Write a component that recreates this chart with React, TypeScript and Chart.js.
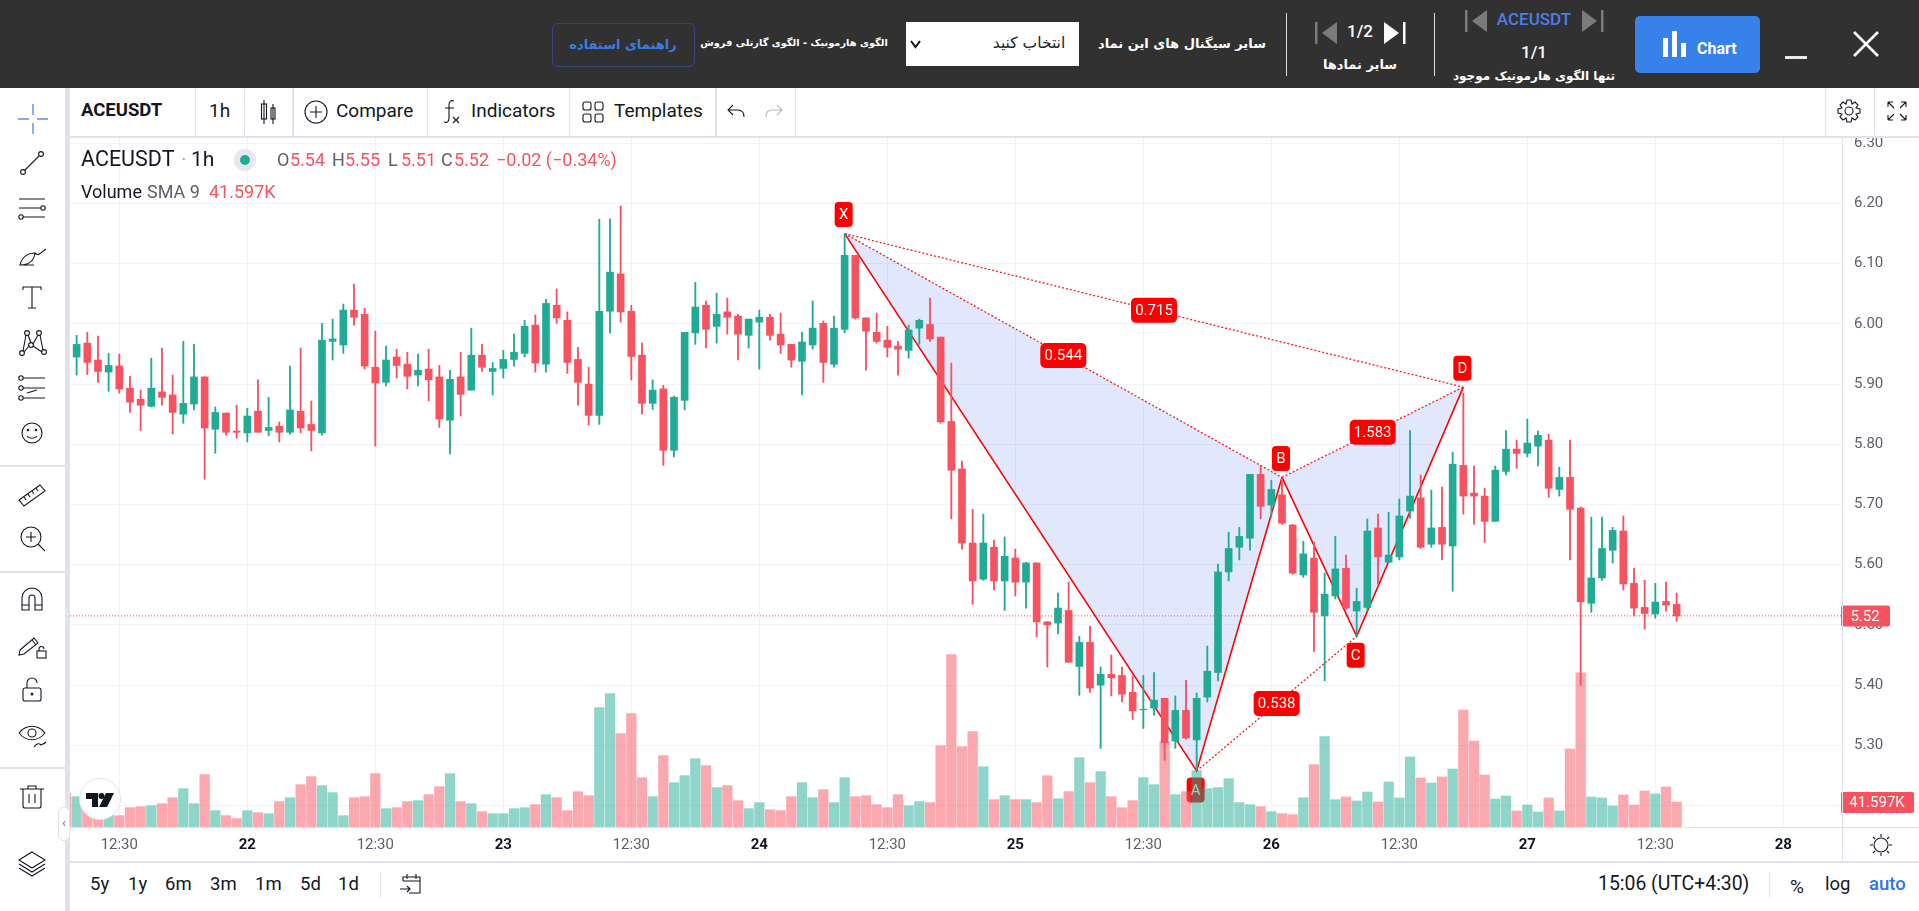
import React, { useEffect, useRef } from 'react';
import Chart from 'chart.js/auto';

// hourly candles, first entry sits just left of the visible range
const highs = [
  5.99,
  5.981, 5.986, 5.98, 5.951, 5.95, 5.913, 5.89, 5.943, 5.96, 5.915,
  5.971, 5.966, 5.912, 5.862, 5.852, 5.865, 5.86, 5.907, 5.878, 5.837,
  5.93, 5.96, 5.872, 6.001, 6.008, 6.033, 6.066, 6.026, 5.988, 5.963,
  5.958, 5.953, 5.95, 5.958, 5.931, 5.923, 5.953, 5.993, 5.966, 5.936,
  5.956, 5.983, 6.006, 6.015, 6.041, 6.058, 6.02, 5.961, 5.928, 6.174,
  6.174, 6.196, 6.031, 5.968, 5.907, 5.898, 5.88, 5.986, 6.069, 6.038,
  6.051, 6.043, 6.016, 6.008, 6.023, 6.016, 6.018, 5.966, 5.986, 6.038,
  6.005, 6.013, 6.15, 6.114, 6.01, 6.018, 5.996, 5.971, 5.998, 6.008,
  6.043, 5.978, 5.935, 5.772, 5.692, 5.684, 5.641, 5.646, 5.626, 5.604,
  5.603, 5.506, 5.553, 5.571, 5.481, 5.498, 5.43, 5.45, 5.43, 5.415,
  5.416, 5.421, 5.378, 5.382, 5.408, 5.387, 5.465, 5.601, 5.654, 5.662,
  5.75, 5.764, 5.74, 5.743, 5.667, 5.639, 5.637, 5.586, 5.647, 5.616,
  5.561, 5.676, 5.684, 5.687, 5.709, 5.823, 5.749, 5.724, 5.729, 5.787,
  5.885, 5.764, 5.727, 5.764, 5.823, 5.807, 5.842, 5.822, 5.817, 5.762,
  5.807, 5.696, 5.679, 5.679, 5.662, 5.681, 5.594, 5.574, 5.569, 5.571,
  5.553,
];
const opens = [
  5.96,
  5.945, 5.968, 5.94, 5.92, 5.93, 5.893, 5.875, 5.863, 5.887, 5.882,
  5.85, 5.867, 5.912, 5.825, 5.852, 5.822, 5.819, 5.855, 5.823, 5.83,
  5.82, 5.855, 5.833, 5.819, 5.971, 5.965, 6.023, 6.016, 5.928, 5.903,
  5.945, 5.933, 5.915, 5.925, 5.912, 5.84, 5.912, 5.89, 5.948, 5.921,
  5.926, 5.941, 5.951, 5.998, 5.933, 6.031, 6.006, 5.941, 5.9, 5.848,
  6.021, 6.083, 6.021, 5.948, 5.868, 5.892, 5.79, 5.873, 5.985, 6.031,
  5.996, 6.02, 6.013, 5.981, 6.003, 6.011, 5.983, 5.966, 5.938, 5.965,
  6.001, 5.933, 5.991, 6.114, 6.01, 5.986, 5.973, 5.963, 5.956, 5.993,
  5.999, 5.978, 5.838, 5.759, 5.636, 5.576, 5.629, 5.573, 5.611, 5.571,
  5.603, 5.505, 5.503, 5.524, 5.431, 5.471, 5.4, 5.418, 5.416, 5.388,
  5.359, 5.362, 5.378, 5.307, 5.358, 5.309, 5.38, 5.421, 5.588, 5.629,
  5.644, 5.75, 5.699, 5.716, 5.666, 5.583, 5.611, 5.515, 5.548, 5.594,
  5.523, 5.529, 5.661, 5.604, 5.613, 5.689, 5.711, 5.634, 5.662, 5.631,
  5.765, 5.719, 5.714, 5.672, 5.755, 5.792, 5.785, 5.797, 5.807, 5.725,
  5.745, 5.694, 5.536, 5.578, 5.624, 5.656, 5.569, 5.529, 5.518, 5.539,
  5.534,
];
const closes = [
  5.95,
  5.966, 5.936, 5.921, 5.931, 5.892, 5.87, 5.865, 5.893, 5.878, 5.853,
  5.868, 5.912, 5.827, 5.853, 5.82, 5.82, 5.847, 5.82, 5.828, 5.82,
  5.857, 5.827, 5.823, 5.973, 5.975, 6.023, 6.011, 5.93, 5.902, 5.94,
  5.931, 5.913, 5.923, 5.907, 5.842, 5.908, 5.883, 5.948, 5.928, 5.926,
  5.941, 5.953, 5.996, 5.935, 6.034, 6.01, 5.936, 5.903, 5.848, 6.021,
  6.086, 6.02, 5.946, 5.868, 5.89, 5.79, 5.878, 5.986, 6.028, 5.991,
  6.016, 6.011, 5.983, 6.008, 6.011, 5.981, 5.965, 5.94, 5.97, 5.993,
  5.936, 5.993, 6.114, 6.01, 5.988, 5.971, 5.961, 5.958, 5.99, 6.006,
  5.975, 5.837, 5.757, 5.636, 5.573, 5.636, 5.573, 5.614, 5.571, 5.603,
  5.505, 5.5, 5.528, 5.438, 5.471, 5.395, 5.418, 5.412, 5.385, 5.357,
  5.36, 5.375, 5.304, 5.358, 5.312, 5.378, 5.423, 5.588, 5.627, 5.647,
  5.75, 5.697, 5.725, 5.669, 5.586, 5.618, 5.521, 5.551, 5.593, 5.528,
  5.539, 5.656, 5.613, 5.616, 5.681, 5.714, 5.629, 5.661, 5.634, 5.767,
  5.714, 5.714, 5.672, 5.757, 5.792, 5.785, 5.802, 5.815, 5.727, 5.745,
  5.692, 5.538, 5.578, 5.627, 5.657, 5.568, 5.528, 5.519, 5.538, 5.533,
  5.515,
];
const lows = [
  5.94,
  5.915, 5.916, 5.903, 5.888, 5.885, 5.853, 5.823, 5.862, 5.865, 5.817,
  5.835, 5.857, 5.742, 5.785, 5.815, 5.81, 5.804, 5.82, 5.814, 5.804,
  5.817, 5.819, 5.789, 5.815, 5.94, 5.951, 5.998, 5.925, 5.797, 5.897,
  5.91, 5.892, 5.897, 5.872, 5.828, 5.784, 5.847, 5.89, 5.921, 5.882,
  5.91, 5.93, 5.945, 5.92, 5.92, 6.001, 5.918, 5.865, 5.832, 5.833,
  5.985, 6.003, 5.907, 5.85, 5.858, 5.765, 5.779, 5.857, 5.966, 5.96,
  5.968, 5.983, 5.94, 5.96, 5.925, 5.973, 5.951, 5.928, 5.882, 5.958,
  5.903, 5.928, 5.985, 6.008, 5.923, 5.968, 5.945, 5.915, 5.943, 5.966,
  5.971, 5.835, 5.676, 5.626, 5.534, 5.574, 5.558, 5.524, 5.548, 5.528,
  5.48, 5.43, 5.485, 5.438, 5.383, 5.388, 5.295, 5.382, 5.372, 5.343,
  5.328, 5.35, 5.275, 5.295, 5.31, 5.259, 5.372, 5.407, 5.573, 5.608,
  5.624, 5.676, 5.679, 5.667, 5.584, 5.579, 5.456, 5.407, 5.543, 5.526,
  5.481, 5.524, 5.568, 5.604, 5.608, 5.677, 5.627, 5.629, 5.608, 5.556,
  5.684, 5.667, 5.637, 5.672, 5.749, 5.76, 5.779, 5.764, 5.712, 5.714,
  5.608, 5.4, 5.521, 5.574, 5.603, 5.558, 5.515, 5.493, 5.511, 5.523,
  5.506,
];
// volume in thousands
const volumes = [
  55.5,
  50.5, 31.6, 28.8, 26.1, 18.9, 32.2, 33.8, 35.5, 38.8, 48.8,
  63.8, 38.8, 87.1, 27.2, 18.9, 13.9, 27.2, 23.9, 22.2, 42.2,
  48.8, 70.4, 83.8, 68.8, 57.1, 18.9, 48.8, 50.5, 88.8, 30.5,
  32.2, 42.2, 43.8, 53.8, 67.1, 88.8, 42.2, 38.8, 25.5, 22.2,
  22.2, 30.5, 32.2, 37.2, 53.8, 48.8, 27.2, 58.8, 52.1, 198.6,
  221.9, 155.3, 188.6, 82.1, 50.5, 118.7, 73.8, 85.4, 113.7, 102.1,
  65.5, 68.8, 43.8, 30.5, 40.5, 28.8, 27.2, 50.5, 73.8, 48.8,
  62.1, 40.5, 82.1, 50.5, 52.1, 37.2, 32.2, 53.8, 35.5, 42.2,
  40.5, 135.3, 286.8, 133.7, 158.6, 100.4, 45.5, 52.1, 45.5, 45.5,
  40.5, 85.4, 47.1, 58.8, 115.4, 73.8, 92.1, 50.5, 32.2, 43.8,
  82.1, 70.4, 142, 53.8, 58.8, 93.7, 63.8, 65.5, 80.4, 40.5,
  37.2, 33.8, 25.5, 22.2, 20.5, 48.8, 103.7, 150.3, 45.5, 49.9,
  43.3, 58.2, 41.6, 74.9, 48.3, 116.5, 81.5, 73.2, 83.2, 96.5,
  194.7, 143.1, 86.5, 46.6, 51.6, 26.6, 36.6, 25, 48.3, 26.6,
  129.8, 256.3, 49.9, 48.3, 34.9, 53.3, 36.6, 59.9, 54.9, 66.6,
  41.597,
];

const priceTicks = [5.2, 5.3, 5.4, 5.5, 5.6, 5.7, 5.8, 5.9, 6.0, 6.1, 6.2, 6.3];
const timeTicks = [4, 16, 28, 40, 52, 64, 76, 88, 100, 112, 124, 136, 148, 160];
const timeLabels = ['12:30', '22', '12:30', '23', '12:30', '24', '12:30', '25', '12:30', '26', '12:30', '27', '12:30', '28'];

// harmonic pattern points X A B C D
const patternLetters = ['X', 'A', 'B', 'C', 'D'];
const patternHours = [72, 105, 113, 120, 130];
const patternPrices = [6.15, 5.2575, 5.745, 5.481, 5.895];
const patternRatios = [
  { from: 0, to: 2, text: '0.544' },
  { from: 1, to: 3, text: '0.538' },
  { from: 2, to: 4, text: '1.583' },
  { from: 0, to: 4, text: '0.715' },
];
const lastPrice = 5.515;
const lastPriceLabel = '5.52';
const lastVolumeLabel = '41.597K';

const UP = '#22ab94';
const DOWN = '#f7525f';
const UP_VOL = 'rgba(34,171,148,0.5)';
const DOWN_VOL = 'rgba(247,82,95,0.5)';
const RED = '#ff0000';
const FILL = 'rgba(70,115,245,0.16)';
const GRID = '#f0f3fa';
const LINE = '#e0e3eb';
const INK = '#131722';
const X_MIN = -0.622;
const X_MAX = 165.5;

const hourAt = (k: number) => k - 1;
const pt = (i: number) => ({ x: patternHours[i], y: patternPrices[i] });

function roundBox(ctx: CanvasRenderingContext2D, x: number, y: number, w: number, h: number, r: number, color: string) {
  ctx.fillStyle = color;
  ctx.beginPath();
  ctx.roundRect(x, y, w, h, r);
  ctx.fill();
}

function boxText(ctx: CanvasRenderingContext2D, text: string, x: number, y: number, font: string) {
  ctx.fillStyle = '#fff';
  ctx.font = font;
  ctx.textAlign = 'center';
  ctx.textBaseline = 'middle';
  ctx.fillText(text, x, y + 1);
}

// tags sit over the pattern fill but under the volume bars
const patternTags = {
  id: 'patternTags',
  beforeDatasetDraw(chart: any, args: any) {
    if (args.index !== 7) return;
    const { ctx, scales } = chart;
    ctx.save();
    patternRatios.forEach((r) => {
      const x = scales.x.getPixelForValue((patternHours[r.from] + patternHours[r.to]) / 2);
      const y = scales.y.getPixelForValue((patternPrices[r.from] + patternPrices[r.to]) / 2);
      roundBox(ctx, x - 23, y - 12.5, 46, 25, 5, RED);
      boxText(ctx, r.text, x, y, '15px Roboto');
    });
    patternLetters.forEach((letter, i) => {
      const x = scales.x.getPixelForValue(patternHours[i]) - 1;
      const y = scales.y.getPixelForValue(patternPrices[i]);
      const below = letter === 'A' || letter === 'C';
      const top = below ? y + 6.5 : y - 31.5;
      roundBox(ctx, x - 9, top, 18, 25, 4, RED);
      boxText(ctx, letter, x, top + 12.5, '15px Roboto');
    });
    ctx.restore();
  },
};

// last value tags on the price scale
const scaleTags = {
  id: 'scaleTags',
  afterDraw(chart: any) {
    const { ctx, scales } = chart;
    ctx.save();
    const py = scales.y.getPixelForValue(lastPrice);
    roundBox(ctx, 1841, py - 10.5, 49, 21, 2, DOWN);
    boxText(ctx, lastPriceLabel, 1865, py, '15px Roboto');
    const vy = scales.v.getPixelForValue(volumes[volumes.length - 1]);
    roundBox(ctx, 1841, vy - 10, 73, 21, 2, DOWN);
    boxText(ctx, lastVolumeLabel, 1877, vy, '15px Roboto');
    ctx.restore();
  },
};

function CandleChart() {
  const chartRef = useRef<HTMLCanvasElement>(null);

  useEffect(() => {
    if (!chartRef.current) return;
    const colors = closes.map((c, k) => (c >= opens[k] ? UP : DOWN));
    const volColors = closes.map((c, k) => (c >= opens[k] ? UP_VOL : DOWN_VOL));
    const solid = { type: 'line', borderColor: RED, borderWidth: 1.6, pointRadius: 0, tension: 0, order: 9 };
    const dotted = { ...solid, borderWidth: 1.3, borderDash: [2, 2], borderColor: 'rgba(255,0,0,0.9)' };
    const filled = (target: number) => ({ target, above: FILL, below: FILL });

    const chart = new Chart(chartRef.current, {
      type: 'bar',
      data: {
        datasets: [
          { ...solid, data: [pt(0), pt(1), pt(2)] },
          { ...dotted, data: [pt(0), pt(2)], fill: filled(0) },
          { ...solid, data: [pt(2), pt(3), pt(4)] },
          { ...dotted, data: [pt(2), pt(4)], fill: filled(2) },
          { ...dotted, data: [pt(0), pt(4)] },
          { ...dotted, data: [pt(1), pt(3)] },
          {
            ...dotted,
            borderWidth: 1,
            borderDash: [1, 2],
            borderColor: DOWN,
            order: 0,
            data: [{ x: X_MIN, y: lastPrice }, { x: X_MAX, y: lastPrice }],
          },
          {
            yAxisID: 'v',
            order: 3,
            grouped: false,
            barThickness: 9.6,
            maxBarThickness: 9.6,
            backgroundColor: volColors,
            data: volumes.map((v, k) => ({ x: hourAt(k), y: v })),
          },
          {
            order: 2,
            grouped: false,
            barThickness: 1.2,
            maxBarThickness: 1.2,
            backgroundColor: colors,
            data: highs.map((h, k) => ({ x: hourAt(k), y: [lows[k], h] })),
          },
          {
            order: 1,
            grouped: false,
            barThickness: 7,
            maxBarThickness: 7,
            backgroundColor: colors,
            data: opens.map((o, k) => ({ x: hourAt(k), y: [o, closes[k]] })),
          },
        ],
      },
      plugins: [patternTags, scaleTags],
      options: {
        animation: false,
        responsive: false,
        layout: { padding: { left: 70, top: 137, bottom: 49, right: 0 } },
        plugins: { legend: { display: false }, tooltip: { enabled: false } },
        scales: {
          x: {
            type: 'linear',
            min: X_MIN,
            max: X_MAX,
            offset: false,
            border: { display: false },
            grid: { color: GRID, offset: false, drawTicks: false },
            afterBuildTicks: (axis: any) => {
              axis.ticks = timeTicks.map((value) => ({ value }));
            },
            afterFit: (axis: any) => {
              axis.height = 35;
            },
            ticks: {
              autoSkip: false,
              maxRotation: 0,
              padding: 9,
              callback: (value: number) => timeLabels[timeTicks.indexOf(value)],
              color: (c: any) => (timeLabels[c.index] === '12:30' ? '#5d606b' : INK),
              font: (c: any) => ({
                family: 'Roboto',
                size: 15,
                weight: timeLabels[c.index] === '12:30' ? 'normal' : 'bold',
              }),
            },
          },
          y: {
            position: 'right',
            min: 5.1643,
            max: 6.3105,
            border: { display: false },
            grid: { color: GRID, drawTicks: false },
            afterBuildTicks: (axis: any) => {
              axis.ticks = priceTicks.map((value) => ({ value }));
            },
            afterFit: (axis: any) => {
              axis.width = 77;
            },
            ticks: {
              padding: 12,
              color: '#5d606b',
              font: { family: 'Roboto', size: 15 },
              callback: (value: number) => value.toFixed(2),
            },
          },
          v: { display: false, position: 'right', min: 0, max: 1148 },
        },
      },
    } as any);

    return () => {
      chart.destroy();
    };
  }, []);

  return <canvas ref={chartRef} width={1919} height={911} style={{ position: 'absolute', left: 0, top: 0 }} />;
}

function Txt({ x, y, size = 16, color = INK, weight = 400, center = false, font = 'Roboto', children }: any) {
  return (
    <span
      style={{
        position: 'absolute',
        left: x,
        top: y,
        transform: center ? 'translate(-50%,-50%)' : 'translateY(-50%)',
        fontFamily: font,
        fontSize: size,
        fontWeight: weight,
        color,
        whiteSpace: 'nowrap',
        lineHeight: 1,
      }}
    >
      {children}
    </span>
  );
}

function Fa({ x, y, size = 14, color = '#fff', children }: any) {
  return (
    <Txt x={x} y={y} size={size} color={color} weight={700} center font="'DejaVu Sans'">
      <span dir="rtl">{children}</span>
    </Txt>
  );
}

function Box({ x, y, w, h, bg = LINE, style }: any) {
  return <div style={{ position: 'absolute', left: x, top: y, width: w, height: h, background: bg, ...style }} />;
}

function Icon({ x, y, s = 30, vb = 30, children }: any) {
  return (
    <svg
      width={s}
      height={s}
      viewBox={`0 0 ${vb} ${vb}`}
      fill="none"
      stroke={INK}
      strokeWidth={1.1}
      style={{ position: 'absolute', left: x - s / 2, top: y - s / 2 }}
    >
      {children}
    </svg>
  );
}

function Nav({ x, y, dir, color }: any) {
  const tri = dir < 0 ? 'M22 0 L22 22 L7 11Z' : 'M0 0 L0 22 L15 11Z';
  const barX = dir < 0 ? 0 : 19;
  return (
    <svg width={22} height={22} style={{ position: 'absolute', left: x, top: y - 11 }}>
      <rect x={barX} y={0} width={2.5} height={22} fill={color} />
      <path d={tri} fill={color} />
    </svg>
  );
}

function TopBar() {
  return (
    <>
      <Box x={0} y={0} w={1919} h={88} bg="#313131" />
      <div
        style={{
          position: 'absolute',
          left: 552,
          top: 23,
          width: 141,
          height: 42,
          border: '1px solid #2f4a78',
          borderRadius: 6,
        }}
      />
      <Fa x={623} y={44} size={13} color="#3b7de0">راهنمای استفاده</Fa>
      <Fa x={794} y={43} size={9.8}>الگوی هارمونیک - الگوی گارتلی فروش</Fa>
      <Box x={906} y={22} w={173} h={44} bg="#fff" />
      <svg width={12} height={10} style={{ position: 'absolute', left: 910, top: 40 }}>
        <path d="M1 1 L5.5 7 L10 1" stroke="#111" strokeWidth={2} fill="none" />
      </svg>
      <Txt x={1029} y={44} size={15.5} color="#222" weight={400} center font="'DejaVu Sans'">
        <span dir="rtl">انتخاب کنید</span>
      </Txt>
      <Fa x={1182} y={43} size={13}>سایر سیگنال های این نماد</Fa>
      <Box x={1286} y={13} w={1} h={63} bg="#ddd" />
      <Nav x={1315} y={33} dir={-1} color="#7b7b7b" />
      <Txt x={1360} y={31} size={17} color="#fff" weight={500} center>1/2</Txt>
      <Nav x={1384} y={33} dir={1} color="#fff" />
      <Fa x={1360} y={64} size={13}>سایر نمادها</Fa>
      <Box x={1434} y={13} w={1} h={63} bg="#ddd" />
      <Nav x={1465} y={21} dir={-1} color="#7b7b7b" />
      <Txt x={1534} y={19} size={17} color="#4a7fe8" weight={500} center>ACEUSDT</Txt>
      <Nav x={1582} y={21} dir={1} color="#7b7b7b" />
      <Txt x={1534} y={52} size={17} color="#fff" weight={500} center>1/1</Txt>
      <Fa x={1534} y={76} size={12}>تنها الگوی هارمونیک موجود</Fa>
      <Box x={1635} y={16} w={125} h={57} bg="#3781ea" style={{ borderRadius: 5 }} />
      <svg width={28} height={26} style={{ position: 'absolute', left: 1663, top: 31 }}>
        <rect x={0} y={7} width={5} height={19} fill="#fff" />
        <rect x={9} y={0} width={5} height={26} fill="#fff" />
        <rect x={18} y={12} width={5} height={14} fill="#fff" />
      </svg>
      <Txt x={1697} y={49} size={16} color="#fff" weight={700}>Chart</Txt>
      <Box x={1785} y={56} w={22} h={3} bg="#e8e8e8" />
      <svg width={26} height={26} style={{ position: 'absolute', left: 1853, top: 31 }}>
        <path d="M1 1 L25 25 M25 1 L1 25" stroke="#fff" strokeWidth={2.6} />
      </svg>
    </>
  );
}

function ToolRow() {
  const cuts = [195, 244, 427, 569, 795, 1825, 1874];
  return (
    <>
      <Box x={70} y={88} w={1849} h={48} bg="#fff" />
      <Box x={70} y={136} w={1849} h={2} />
      {cuts.map((x) => (
        <Box key={x} x={x} y={88} w={1} h={48} />
      ))}
      <Box x={292} y={88} w={2} h={48} />
      <Box x={715} y={88} w={2} h={48} />
      <Txt x={81} y={110} size={18.5} weight={700}>ACEUSDT</Txt>
      <Txt x={209} y={110} size={19}>1h</Txt>
      <Icon x={268} y={110} s={30}>
        <path d="M11 5v24M20 9v20" />
        <rect x={8.5} y={9} width={5} height={15} />
        <rect x={18} y={13} width={4} height={11} />
      </Icon>
      <Icon x={316} y={112} s={26} vb={26}>
        <circle cx={13} cy={13} r={11} />
        <path d="M13 7v12M7 13h12" />
      </Icon>
      <Txt x={336} y={110} size={19}>Compare</Txt>
      <Icon x={451} y={112} s={30}>
        <path d="M18 4c-3-1-5 0-5 4v13c0 4-2 5-5 4M9 11h9" />
        <path d="M17 20l6 6M23 20l-6 6" />
      </Icon>
      <Txt x={471} y={110} size={19}>Indicators</Txt>
      <Icon x={593} y={112} s={26} vb={26}>
        <rect x={3} y={3} width={8} height={8} rx={2} />
        <rect x={15} y={3} width={8} height={8} rx={2} />
        <rect x={3} y={15} width={8} height={8} rx={2} />
        <rect x={15} y={15} width={8} height={8} rx={2} />
      </Icon>
      <Txt x={614} y={110} size={19}>Templates</Txt>
      <Icon x={737} y={111} s={22} vb={22}>
        <path d="M7 5L2 10l5 5M2 10h10c4 0 6 2 6 7" />
      </Icon>
      <svg width={22} height={22} viewBox="0 0 22 22" fill="none" stroke="#b6b9c3" strokeWidth={1.1} style={{ position: 'absolute', left: 762, top: 100 }}>
        <path d="M15 5l5 5-5 5M20 10H10c-4 0-6 2-6 7" />
      </svg>
      <Icon x={1849} y={111} s={28} vb={28}>
        <circle cx={14} cy={14} r={4} />
        <path d="M12 3h4l1 4 3-2 3 3-2 3 4 1v4l-4 1 2 3-3 3-3-2-1 4h-4l-1-4-3 2-3-3 2-3-4-1v-4l4-1-2-3 3-3 3 2z" />
      </Icon>
      <Icon x={1897} y={111} s={24} vb={24}>
        <path d="M3 3h5M3 3v5M3 3l6 6M21 3h-5M21 3v5M21 3l-6 6M3 21h5M3 21v-5M3 21l6-6M21 21h-5M21 21v-5M21 21l-6-6" />
      </Icon>
    </>
  );
}

function SideBar() {
  const dividers = [465, 571, 767];
  return (
    <>
      <Box x={0} y={88} w={65} h={823} bg="#fff" />
      <Box x={65} y={88} w={5} h={823} />
      {dividers.map((y) => (
        <Box key={y} x={0} y={y} w={65} h={2} />
      ))}
      <svg width={30} height={30} style={{ position: 'absolute', left: 18, top: 104 }}>
        <path d="M15 0v11M15 19v11M0 15h11M19 15h11" stroke="#5b8def" strokeWidth={1.4} />
      </svg>
      <Icon x={32} y={163}>
        <circle cx={6} cy={24} r={2.4} />
        <circle cx={24} cy={6} r={2.4} />
        <path d="M8 22L22 8" />
      </Icon>
      <Icon x={32} y={208}>
        <path d="M2 6h26M2 15h22M6 24h22" />
        <circle cx={26} cy={15} r={2.2} />
        <circle cx={4} cy={24} r={2.2} />
      </Icon>
      <Icon x={32} y={255}>
        <path d="M3 25c2-8 8-12 15-12-1 7-5 12-15 12zM3 25h14M18 13c4 4 6-1 11-4" />
      </Icon>
      <Icon x={32} y={297}>
        <path d="M6 8V5h18v3M15 5v21M11 26h8" />
      </Icon>
      <Icon x={32} y={343}>
        <circle cx={5} cy={25} r={2.4} />
        <circle cx={10} cy={5} r={2.4} />
        <circle cx={14} cy={17} r={2.4} />
        <circle cx={22} cy={5} r={2.4} />
        <circle cx={27} cy={24} r={2.4} />
        <path d="M6 23l3-16M11 7l3 8M16 16l5-9M23 7l3 15M7 24l5-6M16 18l9 6" />
      </Icon>
      <Icon x={32} y={388}>
        <path d="M6 5h22M6 15h22M6 25h22M10 20l10-3" />
        <circle cx={4} cy={5} r={2.2} />
        <circle cx={4} cy={15} r={2.2} />
        <circle cx={4} cy={25} r={2.2} />
      </Icon>
      <Icon x={32} y={433}>
        <circle cx={15} cy={15} r={10} />
        <circle cx={11} cy={12} r={0.8} />
        <circle cx={19} cy={12} r={0.8} />
        <path d="M10 18c2 3 8 3 10 0" />
      </Icon>
      <Icon x={32} y={494}>
        <path d="M2 21L23 6l5 6L7 27zM7 18l2 3M11 15l2 3M15 12l2 3M19 9l2 3" />
      </Icon>
      <Icon x={32} y={538}>
        <circle cx={14} cy={14} r={10} />
        <path d="M14 9v10M9 14h10M21 21l7 7" />
      </Icon>
      <Icon x={32} y={599}>
        <path d="M5 26V14a10 10 0 0 1 20 0v12h-7V14a3 3 0 0 0-6 0v12zM5 21h7M18 21h7" />
      </Icon>
      <Icon x={32} y={645}>
        <path d="M3 20L17 8l4 5-14 11-5 1zM15 10l4 5" />
        <rect x={20} y={21} width={9} height={7} />
        <path d="M22 21v-2a2.5 2.5 0 0 1 5 0" />
      </Icon>
      <Icon x={32} y={690}>
        <rect x={6} y={13} width={18} height={13} rx={2} />
        <path d="M10 13V8a5 5 0 0 1 10 0" />
        <circle cx={15} cy={19} r={1} />
      </Icon>
      <Icon x={32} y={735}>
        <path d="M2 13c7-9 19-9 26 0-7 9-19 9-26 0z" />
        <circle cx={15} cy={13} r={4} />
        <path d="M17 27c3-4 5-4 7-2 2-1 3-1 5-3" />
      </Icon>
      <Icon x={32} y={797}>
        <path d="M3 7h24M6 7v17a2 2 0 0 0 2 2h14a2 2 0 0 0 2-2V7M11 7V4h8v3M12 12v9M18 12v9" />
      </Icon>
      <Icon x={32} y={863}>
        <path d="M15 4L28 12 15 20 2 12zM2 16l13 8 13-8M2 20l13 8 13-8" />
      </Icon>
      <div
        style={{
          position: 'absolute',
          left: 58,
          top: 807,
          width: 10,
          height: 32,
          background: '#fff',
          border: '1px solid #e0e3eb',
          borderRadius: 5,
          color: '#6a6d78',
          fontFamily: 'Roboto',
          fontSize: 13,
          lineHeight: '30px',
          textAlign: 'center',
        }}
      >
        ‹
      </div>
    </>
  );
}

function Legend() {
  const bits = [
    ['O', '5.54', 277],
    ['H', '5.55', 332],
    ['L', '5.51', 388],
    ['C', '5.52', 441],
  ];
  return (
    <>
      <Txt x={81} y={159} size={21.5}>ACEUSDT</Txt>
      <Txt x={181} y={159} size={21} color="#a0a3ad">·</Txt>
      <Txt x={191} y={159} size={21}>1h</Txt>
      <div style={{ position: 'absolute', left: 234, top: 149, width: 22, height: 22, borderRadius: 11, background: '#e6e8f0' }} />
      <div style={{ position: 'absolute', left: 240, top: 155, width: 10, height: 10, borderRadius: 5, background: UP }} />
      {bits.map(([k, v, x]) => (
        <React.Fragment key={k as string}>
          <Txt x={x} y={160} size={18} color="#5d606b">{k}</Txt>
          <Txt x={(x as number) + 13} y={160} size={18} color={DOWN}>{v}</Txt>
        </React.Fragment>
      ))}
      <Txt x={496} y={160} size={18} color={DOWN}>−0.02 (−0.34%)</Txt>
      <Txt x={81} y={192} size={18}>Volume</Txt>
      <Txt x={147} y={192} size={18} color="#5d606b">SMA 9</Txt>
      <Txt x={209} y={192} size={18} color={DOWN}>{lastVolumeLabel}</Txt>
    </>
  );
}

function Footer() {
  const ranges = [['5y', 90], ['1y', 128], ['6m', 165], ['3m', 210], ['1m', 255], ['5d', 300], ['1d', 338]];
  return (
    <>
      <Box x={70} y={827} w={1849} h={1} />
      <Box x={1842} y={138} w={1} h={724} />
      <Box x={70} y={861} w={1849} h={2} />
      <Box x={70} y={863} w={1849} h={48} bg="#fff" />
      {ranges.map(([label, x]) => (
        <Txt key={label as string} x={x} y={884} size={18.5}>{label}</Txt>
      ))}
      <Box x={380} y={872} w={1} h={26} />
      <Icon x={411} y={884} s={26} vb={26}>
        <path d="M5 10V6h17v16H11M5 10h17M9 3v5M18 3v5M2 18h10M9 15l3 3-3 3" />
      </Icon>
      <Txt x={1598} y={884} size={19.4}>15:06 (UTC+4:30)</Txt>
      <Box x={1769} y={872} w={1} h={26} />
      <Txt x={1790} y={886} size={19}>%</Txt>
      <Txt x={1825} y={884} size={18.5}>log</Txt>
      <Txt x={1869} y={884} size={18.5} color="#2e76e6" weight={500}>auto</Txt>
      <Icon x={1881} y={845} s={24} vb={24}>
        <circle cx={12} cy={12} r={7} />
        <path d="M12 1v3M12 20v3M1 12h3M20 12h3M4 4l2 2M18 18l2 2M4 20l2-2M18 6l2-2" />
      </Icon>
      <div
        style={{
          position: 'absolute',
          left: 79,
          top: 778,
          width: 40,
          height: 40,
          borderRadius: 21,
          background: '#fff',
          border: '1px solid #e0e3eb',
        }}
      />
      <svg width={28} height={14} style={{ position: 'absolute', left: 86, top: 793 }}>
        <path d="M0 0H12V14H6V6H0Z" fill={INK} />
        <circle cx={15.5} cy={3} r={3} fill={INK} />
        <path d="M20 0H28L21 14H13Z" fill={INK} />
      </svg>
    </>
  );
}

export default function App() {
  return (
    <div style={{ position: 'fixed', inset: 0, background: '#fff', overflow: 'hidden' }}>
      <CandleChart />
      <TopBar />
      <ToolRow />
      <SideBar />
      <Legend />
      <Footer />
    </div>
  );
}
